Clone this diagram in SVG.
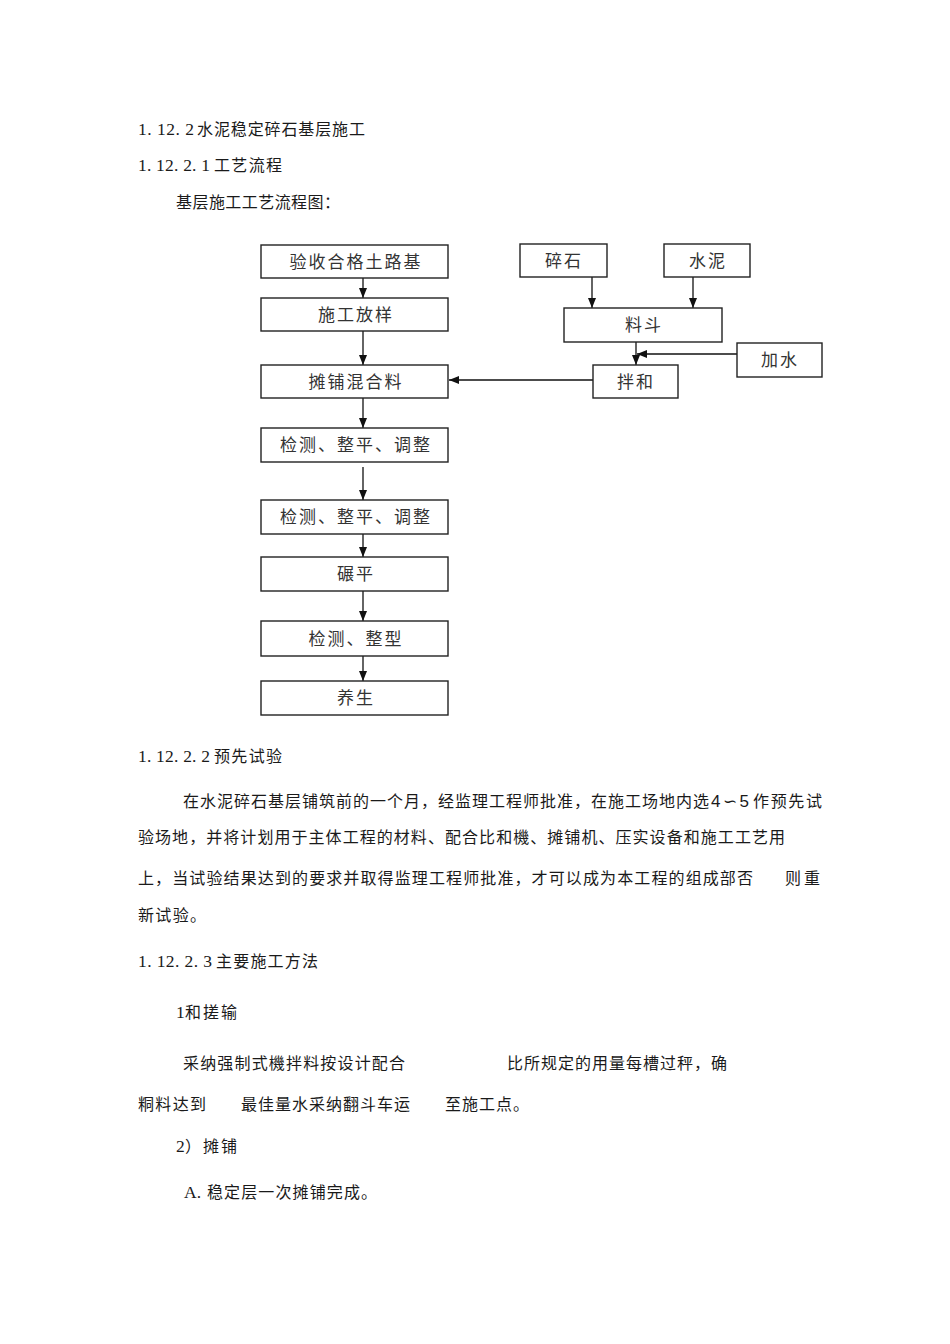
<svg xmlns="http://www.w3.org/2000/svg" width="950" height="1344" viewBox="0 0 950 1344">
<style>
.cn{font-family:"Noto Sans CJK SC","Noto Sans CJK JP",sans-serif;font-size:16px;fill:#1a1a1a}
.num{font-family:"Liberation Serif","Times New Roman",serif;font-size:17.5px;fill:#1a1a1a}
.sans{font-family:"Liberation Sans",Arial,sans-serif;font-size:17px;fill:#1a1a1a}
.box rect{fill:#fff;stroke:#222;stroke-width:1.4}
.box text{font-family:"Noto Sans CJK SC","Noto Sans CJK JP",sans-serif;font-size:17px;fill:#333;text-anchor:middle;letter-spacing:2px}
.conn line{stroke:#111;stroke-width:1.3;fill:none}
</style>
<defs>
<marker id="ah" viewBox="0 0 10 10" refX="10" refY="5" markerWidth="10" markerHeight="10" markerUnits="userSpaceOnUse" orient="auto">
<path d="M0,1 L10,5 L0,9 z" fill="#111"/>
</marker>
</defs>
<rect width="950" height="1344" fill="#fff"/>

<g id="text-top">
<text class="num" x="138" y="135" textLength="56" lengthAdjust="spacing">1. 12. 2</text>
<text class="cn" x="197" y="135" textLength="168" lengthAdjust="spacing">水泥稳定碎石基层施工</text>
<text class="num" x="138" y="171" textLength="72" lengthAdjust="spacing">1. 12. 2. 1</text>
<text class="cn" x="214" y="171" textLength="68" lengthAdjust="spacing">工艺流程</text>
<text class="cn" x="176" y="208" textLength="164" lengthAdjust="spacing">基层施工工艺流程图：</text>
</g>

<g id="connectors" class="conn">
<line x1="363" y1="278" x2="363" y2="298" marker-end="url(#ah)"/>
<line x1="363" y1="331" x2="363" y2="365" marker-end="url(#ah)"/>
<line x1="363" y1="398" x2="363" y2="428" marker-end="url(#ah)"/>
<line x1="363" y1="467" x2="363" y2="500" marker-end="url(#ah)"/>
<line x1="363" y1="534" x2="363" y2="557" marker-end="url(#ah)"/>
<line x1="363" y1="591" x2="363" y2="621" marker-end="url(#ah)"/>
<line x1="363" y1="656" x2="363" y2="681" marker-end="url(#ah)"/>
<line x1="592" y1="277" x2="592" y2="308" marker-end="url(#ah)"/>
<line x1="693" y1="277" x2="693" y2="308" marker-end="url(#ah)"/>
<line x1="636" y1="342" x2="636" y2="365" marker-end="url(#ah)"/>
<line x1="737" y1="354" x2="637" y2="354" marker-end="url(#ah)"/>
<line x1="593" y1="380" x2="449" y2="380" marker-end="url(#ah)"/>
</g>

<g id="n1" class="box"><rect x="261" y="245" width="187" height="33"/><text x="356" y="268">验收合格土路基</text></g>
<g id="n2" class="box"><rect x="261" y="298" width="187" height="33"/><text x="356" y="321">施工放样</text></g>
<g id="n3" class="box"><rect x="261" y="365" width="187" height="33"/><text x="356" y="388">摊铺混合料</text></g>
<g id="n4" class="box"><rect x="261" y="428" width="187" height="34"/><text x="356" y="451">检测、整平、调整</text></g>
<g id="n5" class="box"><rect x="261" y="500" width="187" height="34"/><text x="356" y="523">检测、整平、调整</text></g>
<g id="n6" class="box"><rect x="261" y="557" width="187" height="34"/><text x="356" y="580">碾平</text></g>
<g id="n7" class="box"><rect x="261" y="621" width="187" height="35"/><text x="356" y="645">检测、整型</text></g>
<g id="n8" class="box"><rect x="261" y="681" width="187" height="34"/><text x="356" y="704">养生</text></g>
<g id="n9" class="box"><rect x="520" y="244" width="87" height="33"/><text x="564" y="267">碎石</text></g>
<g id="n10" class="box"><rect x="664" y="244" width="86" height="33"/><text x="708" y="267">水泥</text></g>
<g id="n11" class="box"><rect x="564" y="308" width="158" height="34"/><text x="644" y="331">料斗</text></g>
<g id="n12" class="box"><rect x="737" y="343" width="85" height="34"/><text x="780" y="366">加水</text></g>
<g id="n13" class="box"><rect x="593" y="365" width="85" height="33"/><text x="636" y="388">拌和</text></g>

<g id="text-body">
<text class="num" x="138" y="762" textLength="72" lengthAdjust="spacing">1. 12. 2. 2</text>
<text class="cn" x="214" y="762" textLength="68" lengthAdjust="spacing">预先试验</text>

<text class="cn" x="183" y="807" textLength="526" lengthAdjust="spacing">在水泥碎石基层铺筑前的一个月，经监理工程师批准，在施工场地内选</text>
<text class="sans" x="711" y="807" textLength="38" lengthAdjust="spacing">4∽5</text>
<text class="cn" x="753" y="807" textLength="69" lengthAdjust="spacing">作预先试</text>
<text class="cn" x="138" y="843" textLength="647" lengthAdjust="spacing">验场地，并将计划用于主体工程的材料、配合比和機、摊铺机、压实设备和施工工艺用</text>
<text class="cn" x="138" y="884" textLength="615" lengthAdjust="spacing">上，当试验结果达到的要求并取得监理工程师批准，才可以成为本工程的组成部否</text>
<text class="cn" x="785" y="884" textLength="35" lengthAdjust="spacing">则重</text>
<text class="cn" x="138" y="921" textLength="68" lengthAdjust="spacing">新试验。</text>

<text class="num" x="138" y="967" textLength="74" lengthAdjust="spacing">1. 12. 2. 3</text>
<text class="cn" x="216" y="967" textLength="102" lengthAdjust="spacing">主要施工方法</text>

<text class="num" x="176" y="1018">1</text>
<text class="cn" x="185" y="1018" textLength="52" lengthAdjust="spacing">和搓输</text>

<text class="cn" x="183" y="1069" textLength="222" lengthAdjust="spacing">采纳强制式機拌料按设计配合</text>
<text class="cn" x="507" y="1069" textLength="220" lengthAdjust="spacing">比所规定的用量每槽过秤，确</text>
<text class="cn" x="138" y="1110" textLength="68" lengthAdjust="spacing">粡料达到</text>
<text class="cn" x="241" y="1110" textLength="169" lengthAdjust="spacing">最佳量水采纳翻斗车运</text>
<text class="cn" x="445" y="1110" textLength="84" lengthAdjust="spacing">至施工点。</text>

<text class="num" x="176" y="1152">2</text>
<text class="cn" x="185" y="1152" textLength="52" lengthAdjust="spacing">）摊铺</text>

<text class="num" x="184" y="1198">A.</text>
<text class="cn" x="207" y="1198" textLength="170" lengthAdjust="spacing">稳定层一次摊铺完成。</text>
</g>
</svg>
